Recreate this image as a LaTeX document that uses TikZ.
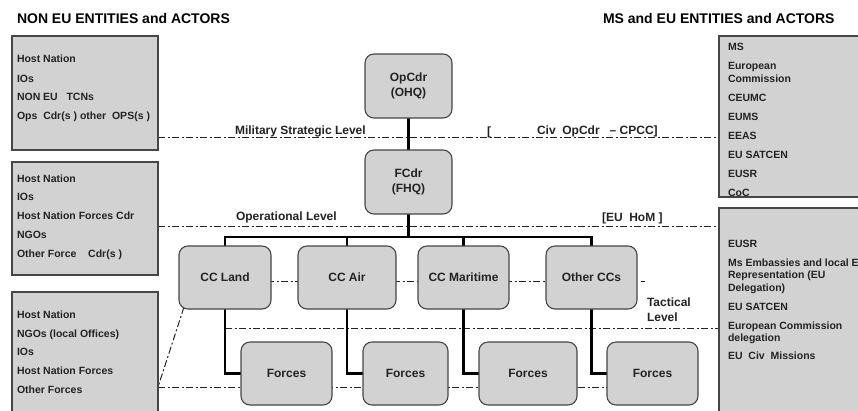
\documentclass[tikz,border=0pt]{standalone}
\usepackage{fontspec}
\setmainfont{Liberation Sans}
\usetikzlibrary{backgrounds}
\definecolor{boxgray}{RGB}{210,210,210}
\definecolor{edgegray}{RGB}{70,70,70}
\definecolor{inkgray}{RGB}{35,35,35}
\begin{document}
\begin{tikzpicture}[x=1pt,y=-1pt,
  every node/.style={inner sep=0pt, outer sep=0pt},
  unit/.style={draw=edgegray, line width=1.1pt, fill=boxgray, rounded corners=9pt,
    font=\fontsize{12}{14.5}\selectfont\bfseries, align=center, text=inkgray},
  panel/.style={draw=edgegray, line width=1.1pt, fill=boxgray, anchor=north west},
  entry/.style={anchor=base west, font=\fontsize{10.5}{12}\selectfont\bfseries, text=inkgray},
  levellabel/.style={anchor=base west, font=\fontsize{12}{14}\selectfont\bfseries, text=inkgray},
  heading/.style={anchor=base west, font=\fontsize{14}{16}\selectfont\bfseries, text=black},
  chain/.style={line width=2.9pt, black},
  dd/.style={line width=1pt, inkgray, dash pattern=on 7pt off 2.5pt on 2pt off 2.5pt}]
\useasboundingbox (0,0) rectangle (858,410);
\clip (0,0) rectangle (858,410);

% headings
\node[heading] (hl) at (17,23) {NON EU ENTITIES and ACTORS};
\node[heading] (hr) at (603,23) {MS and EU ENTITIES and ACTORS};

% side panels
\node[panel, minimum width=146pt, minimum height=114pt] (l1) at (12,36) {};
\node[panel, minimum width=146pt, minimum height=113pt] (l2) at (12,162) {};
\node[panel, minimum width=146pt, minimum height=130pt] (l3) at (12,292) {};
\node[panel, minimum width=160pt, minimum height=161pt] (r1) at (719,36) {};
\node[panel, minimum width=160pt, minimum height=220pt] (r2) at (719,208) {};

% panel entries
\foreach \y/\t [count=\i] in {62.5/Host Nation, 82.5/IOs, 100.5/NON EU\ \ \ TCNs,
    119/Ops\ \ Cdr(s\ ) other\ \ OPS(s\ )}
  \node[entry] (la\i) at (17,\y) {\t};
\foreach \y/\t [count=\i] in {182/Host Nation, 200.5/IOs, 219.5/Host Nation Forces Cdr,
    238/NGOs, 257.5/Other Force\ \ \ \ Cdr(s\ )}
  \node[entry] (lb\i) at (17,\y) {\t};
\foreach \y/\t [count=\i] in {318.5/Host Nation, 337/NGOs (local Offices), 355/IOs,
    374.5/Host Nation Forces, 393/Other Forces}
  \node[entry] (lc\i) at (17,\y) {\t};
\foreach \y/\t [count=\i] in {50/MS, 69.5/European, 82/Commission, 101/CEUMC, 120/EUMS,
    139.5/EEAS, 158/EU SATCEN, 177/EUSR, 196/CoC}
  \node[entry] (ra\i) at (728,\y) {\t};
\foreach \y/\t [count=\i] in {247/EUSR, 266/Ms Embassies and local E, 278.5/Representation (EU,
    291/Delegation), 310/EU SATCEN, 329/European Commission, 341/delegation,
    359.5/EU\ \ Civ\ \ Missions}
  \node[entry] (rb\i) at (728,\y) {\t};

% command units
\node[unit, minimum width=87pt, minimum height=64pt] (op) at (408.5,86) {OpCdr\\(OHQ)};
\node[unit, minimum width=87pt, minimum height=64pt] (fc) at (408.5,182) {FCdr\\(FHQ)};
\node[unit, minimum width=92pt, minimum height=63pt] (ccl) at (225,277.5) {CC Land};
\node[unit, minimum width=98pt, minimum height=63pt] (cca) at (347,277.5) {CC Air};
\node[unit, minimum width=91pt, minimum height=63pt] (ccm) at (463.5,277.5) {CC Maritime};
\node[unit, minimum width=91pt, minimum height=63pt] (occ) at (591.5,277.5) {Other CCs};
\node[unit, minimum width=91pt, minimum height=63pt] (f1) at (286.5,373.5) {Forces};
\node[unit, minimum width=85pt, minimum height=63pt] (f2) at (405.5,373.5) {Forces};
\node[unit, minimum width=98pt, minimum height=63pt] (f3) at (528,373.5) {Forces};
\node[unit, minimum width=91pt, minimum height=63pt] (f4) at (652.5,373.5) {Forces};

% level labels
\node[levellabel] (mil) at (235,134.5) {Military Strategic Level};
\node[levellabel] (brk) at (487,135) {[};
\node[levellabel] (civ) at (537,134.5) {Civ\ \ OpCdr\ \ \ – CPCC]};
\node[levellabel] (opl) at (236,220) {Operational Level};
\node[levellabel] (hom) at (602,221) {[EU\ \ HoM ]};
\node[levellabel] (tac1) at (647,306) {Tactical};
\node[levellabel] (tac2) at (647,321.5) {Level};

\begin{scope}[on background layer]
  % level boundaries
  \draw[dd] (l1.east |- 0,137) -- (r1.west |- 0,137);
  \draw[dd] (l2.east |- 0,226) -- (r2.west |- 0,226);
  \draw[dd] (ccl.south |- 0,328) -- (r2.west |- 0,328);
  \draw[dd] (l3.east |- 0,387) -- (f4.center |- 0,387);
  \draw[dd] ([xshift=5pt,yshift=2pt]ccl.south west) -- (l3.east |- 0,387);
  % liaison between component commands
  \draw[dd] ([yshift=-3.5pt]ccl.center) -- ([yshift=-3.5pt]occ.center);
  \draw[line width=1pt, inkgray] ([xshift=4pt,yshift=-3.5pt]occ.east) -- ++(4,0);
  % chain of command
  \coordinate (bus) at (0,237);
  \draw[chain] (op) -- (fc);
  \draw[chain] (fc.south) -- (fc.south |- bus);
  \draw[chain] (ccl.north) -- (ccl.north |- bus) -- (occ.north |- bus) -- (occ.north);
  \draw[chain] (cca.north) -- (cca.north |- bus);
  \draw[chain] (ccm.north) -- (ccm.north |- bus);
  \draw[chain] (ccl.south) |- (f1.west);
  \draw[chain] (cca.south) |- (f2.west);
  \draw[chain] (ccm.south) |- (f3.west);
  \draw[chain] (occ.south) |- (f4.west);
\end{scope}
\end{tikzpicture}
\end{document}
